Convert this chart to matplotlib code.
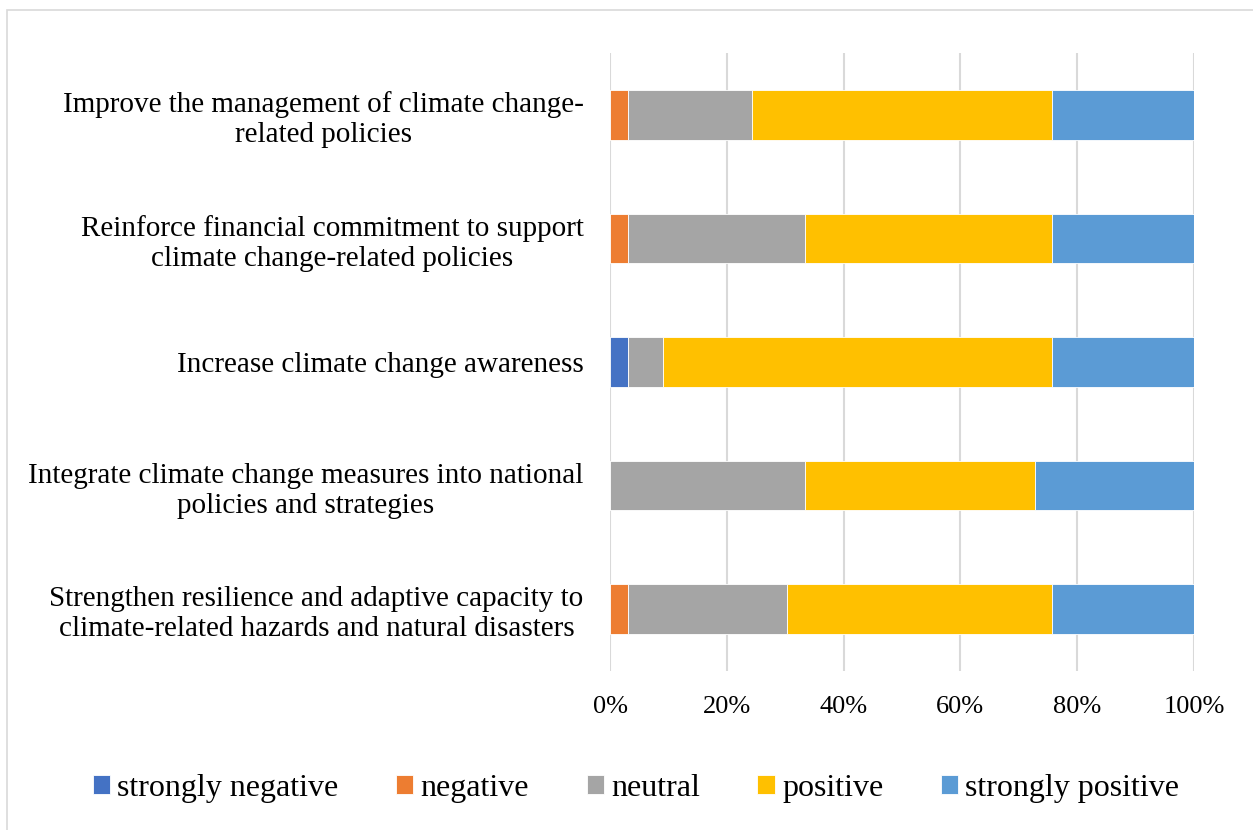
import matplotlib.pyplot as plt
from matplotlib.patches import Rectangle
import numpy as np

plt.rcParams['font.family'] = ['Liberation Serif', 'DejaVu Serif']

# statements, bottom to top
statements = [
    'Strengthen resilience and adaptive capacity to\nclimate-related hazards and natural disasters',
    'Integrate climate change measures into national\npolicies and strategies',
    'Increase climate change awareness',
    'Reinforce financial commitment to support\nclimate change-related policies',
    'Improve the management of climate change-\nrelated policies',
]
levels = ['strongly negative', 'negative', 'neutral', 'positive', 'strongly positive']
colors = ['#4472C4', '#ED7D31', '#A5A5A5', '#FFC000', '#5B9BD5']

# response counts (33 respondents)
strongly_negative = [0, 0, 1, 0, 0]
negative = [1, 0, 0, 1, 1]
neutral = [9, 11, 2, 10, 7]
positive = [15, 13, 22, 14, 17]
strongly_positive = [8, 9, 8, 8, 8]

counts = np.array([strongly_negative, negative, neutral, positive, strongly_positive], dtype=float)
shares = counts / counts.sum(axis=0)

fig = plt.figure(figsize=(12.53, 8.30), dpi=100)
ax = fig.add_axes([610 / 1253, 1 - 671 / 830, 584 / 1253, 618 / 830])

y = np.arange(len(statements))
left = np.zeros(len(statements))
for share, name, c in zip(shares, levels, colors):
    ax.barh(y, share, left=left, height=0.4, color=c, edgecolor='white',
            linewidth=0.6, label=name, zorder=3)
    left += share

ax.set_xlim(0, 1)
ax.set_ylim(-0.5, len(statements) - 0.5)
ax.set_xticks(np.arange(0, 1.01, 0.2))
ax.set_xticklabels([f'{int(round(v * 100))}%' for v in np.arange(0, 1.01, 0.2)], fontsize=19)
ax.set_yticks(y)
ax.set_yticklabels(statements, fontsize=21, linespacing=1.2, multialignment='center')
ax.tick_params(length=0, pad=18, axis='x')
ax.tick_params(length=0, pad=19, axis='y')
ax.grid(axis='x', color='#D9D9D9', linewidth=1.5, zorder=0)
for s in ax.spines.values():
    s.set_visible(False)

ax.legend(loc='center', bbox_to_anchor=(636 / 1253, 1 - 788 / 830),
          bbox_transform=fig.transFigure, ncol=5, frameon=False, fontsize=23,
          handlelength=0.55, handleheight=0.55, handletextpad=0.22, columnspacing=1.8,
          borderpad=0, borderaxespad=0)

# chart border
fig.patches.append(Rectangle((7 / 1253, -0.01), 1.1, 1 - 10 / 830 + 0.01,
                             transform=fig.transFigure, fill=False,
                             edgecolor='#D9D9D9', linewidth=1.2))

fig.savefig('out.png', dpi=100)
